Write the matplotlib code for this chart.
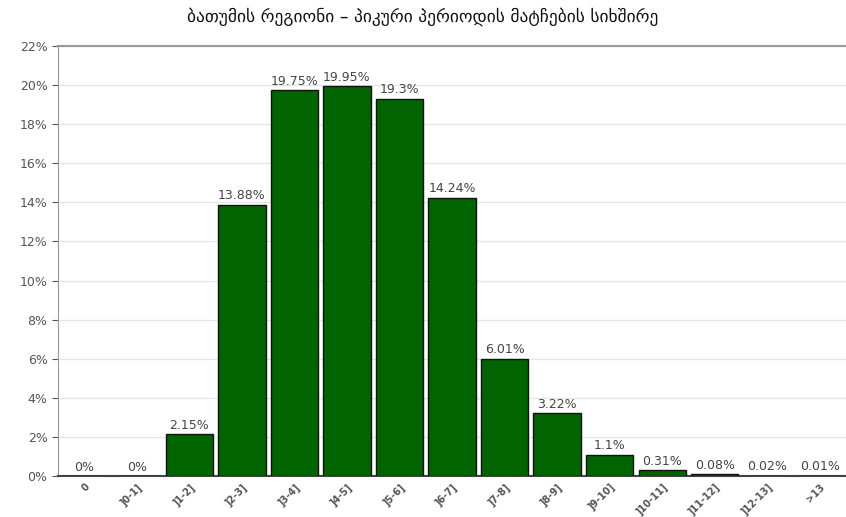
import matplotlib.pyplot as plt
from matplotlib.ticker import MultipleLocator, FuncFormatter

# Share of matches by peak-period band
categories = ['0', ']0-1]', ']1-2]', ']2-3]', ']3-4]', ']4-5]', ']5-6]', ']6-7]',
              ']7-8]', ']8-9]', ']9-10]', ']10-11]', ']11-12]', ']12-13]', '>13']
shares = [0, 0, 2.15, 13.88, 19.75, 19.95, 19.3, 14.24, 6.01, 3.22, 1.1, 0.31, 0.08, 0.02, 0.01]
labels = ['0%', '0%', '2.15%', '13.88%', '19.75%', '19.95%', '19.3%', '14.24%',
          '6.01%', '3.22%', '1.1%', '0.31%', '0.08%', '0.02%', '0.01%']

plt.rcParams['font.family'] = ['DejaVu Sans']

fig = plt.figure(figsize=(8.46, 5.17), dpi=100)
ax = fig.add_axes([0.0686, 0.0793, 0.9314, 0.8317])

x = range(len(categories))
bars = ax.bar(x, shares, width=0.9, color='#006400', edgecolor='#111111', linewidth=1.0, zorder=3)

for b, v, t in zip(bars, shares, labels):
    ax.text(b.get_x() + b.get_width() / 2, v + 0.12, t, ha='center', va='bottom',
            fontsize=9, color='#444444', zorder=4)

ax.set_xlim(-0.5, len(categories) - 0.5)
ax.set_ylim(0, 22)
ax.yaxis.set_major_locator(MultipleLocator(2))
ax.yaxis.set_major_formatter(FuncFormatter(lambda v, p: f'{v:.0f}%'))
ax.set_xticks(list(x))
ax.set_xticklabels(categories, rotation=45, ha='right', rotation_mode='anchor',
                   fontsize=7, fontweight='bold')

ax.grid(axis='y', color='#e6e6e6', linewidth=1, zorder=0)
ax.tick_params(axis='y', labelsize=9, labelcolor='#555555', color='#555555', length=4)
ax.tick_params(axis='x', labelcolor='#555555', length=0, pad=4)

ax.spines['right'].set_visible(False)
ax.spines['left'].set_color('#999999')
ax.spines['top'].set_color('#999999')
ax.spines['top'].set_linewidth(1.5)
ax.spines['bottom'].set_color('#444444')
ax.spines['bottom'].set_linewidth(1.5)

fig.suptitle('ბათუმის რეგიონი – პიკური პერიოდის მატჩების სიხშირე',
             y=0.985, fontsize=12.5, color='#111111')

fig.savefig('out.png', dpi=100)
